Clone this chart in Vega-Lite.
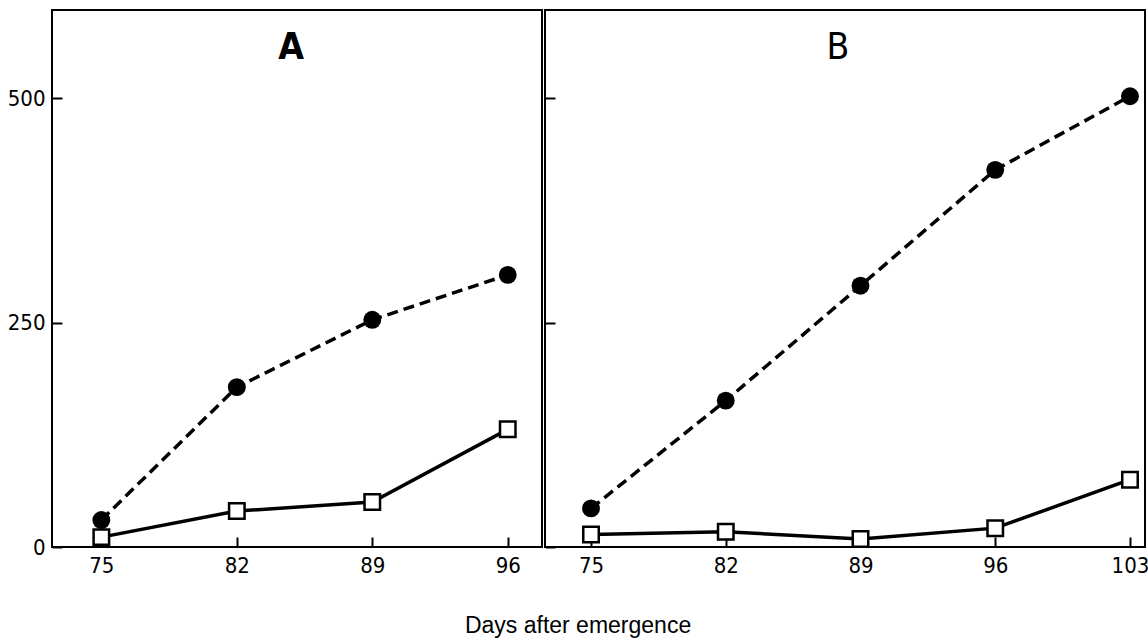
{
  "$schema": "https://vega.github.io/schema/vega-lite/v6.json",
  "background": "white",
  "padding": {"left": 6, "top": 9, "right": 2, "bottom": 5},
  "data": {"values": [
    {"panel": "A", "series": "circle", "day": 75, "value": 30},
    {"panel": "A", "series": "circle", "day": 82, "value": 178},
    {"panel": "A", "series": "circle", "day": 89, "value": 253},
    {"panel": "A", "series": "circle", "day": 96, "value": 303},
    {"panel": "A", "series": "square", "day": 75, "value": 11},
    {"panel": "A", "series": "square", "day": 82, "value": 40},
    {"panel": "A", "series": "square", "day": 89, "value": 50},
    {"panel": "A", "series": "square", "day": 96, "value": 131},
    {"panel": "B", "series": "circle", "day": 75, "value": 43},
    {"panel": "B", "series": "circle", "day": 82, "value": 163},
    {"panel": "B", "series": "circle", "day": 89, "value": 291},
    {"panel": "B", "series": "circle", "day": 96, "value": 420},
    {"panel": "B", "series": "circle", "day": 103, "value": 502},
    {"panel": "B", "series": "square", "day": 75, "value": 14},
    {"panel": "B", "series": "square", "day": 82, "value": 17},
    {"panel": "B", "series": "square", "day": 89, "value": 9},
    {"panel": "B", "series": "square", "day": 96, "value": 21},
    {"panel": "B", "series": "square", "day": 103, "value": 75}
  ]},
  "title": {"text": "Days after emergence", "orient": "bottom", "anchor": "middle", "font": "Liberation Sans", "fontSize": 23, "fontWeight": "normal", "offset": 38, "color": "black"},
  "spacing": 0,
  "config": {
    "view": {"stroke": "black", "strokeWidth": 2},
    "axis": {"domain": false, "grid": false, "ticks": true, "tickColor": "black", "tickWidth": 2, "tickSize": -10, "labelFont": "DejaVu Sans Condensed, DejaVu Sans, sans-serif", "labelFontSize": 22, "labelColor": "black", "title": null}
  },
  "resolve": {"scale": {"x": "independent", "y": "independent"}},
  "hconcat": [
    {
      "width": 490,
      "height": 537,
      "title": {"text": "A", "font": "DejaVu Sans Condensed, DejaVu Sans, sans-serif", "fontSize": 37, "fontWeight": "bold", "offset": 0, "dy": 57, "frame": "group", "anchor": "middle", "dx": -6, "color": "black"},
      "transform": [{"filter": "datum.panel === 'A'"}],
      "encoding": {
        "x": {"field": "day", "type": "quantitative", "scale": {"domain": [72.45, 97.77], "nice": false, "zero": false}, "axis": {"values": [75, 82, 89, 96], "labelPadding": 18}},
        "y": {"field": "value", "type": "quantitative", "scale": {"domain": [0, 598], "nice": false}, "axis": {"values": [0, 250, 500], "labelPadding": 17}}
      },
      "layer": [
        {"transform": [{"filter": "datum.series === 'circle'"}], "mark": {"type": "line", "color": "black", "strokeWidth": 3.5, "strokeDash": [11, 6]}},
        {"transform": [{"filter": "datum.series === 'square'"}], "mark": {"type": "line", "color": "black", "strokeWidth": 3.5}},
        {"transform": [{"filter": "datum.series === 'circle'"}], "mark": {"type": "point", "shape": "circle", "filled": true, "color": "black", "size": 320, "opacity": 1}},
        {"transform": [{"filter": "datum.series === 'square'"}], "mark": {"type": "point", "shape": "square", "filled": true, "fill": "white", "stroke": "black", "strokeWidth": 2.5, "size": 240, "opacity": 1}}
      ]
    },
    {
      "width": 600,
      "height": 537,
      "title": {"text": "B", "font": "DejaVu Sans Condensed, DejaVu Sans, sans-serif", "fontSize": 37, "fontWeight": "normal", "offset": 0, "dy": 57, "frame": "group", "anchor": "middle", "dx": -7, "color": "black"},
      "transform": [{"filter": "datum.panel === 'B'"}],
      "encoding": {
        "x": {"field": "day", "type": "quantitative", "scale": {"domain": [72.61, 103.78], "nice": false, "zero": false}, "axis": {"values": [75, 82, 89, 96, 103], "labelPadding": 18}},
        "y": {"field": "value", "type": "quantitative", "scale": {"domain": [0, 598], "nice": false}, "axis": {"values": [0, 250, 500], "labels": false}}
      },
      "layer": [
        {"transform": [{"filter": "datum.series === 'circle'"}], "mark": {"type": "line", "color": "black", "strokeWidth": 3.5, "strokeDash": [11, 6]}},
        {"transform": [{"filter": "datum.series === 'square'"}], "mark": {"type": "line", "color": "black", "strokeWidth": 3.5}},
        {"transform": [{"filter": "datum.series === 'circle'"}], "mark": {"type": "point", "shape": "circle", "filled": true, "color": "black", "size": 320, "opacity": 1}},
        {"transform": [{"filter": "datum.series === 'square'"}], "mark": {"type": "point", "shape": "square", "filled": true, "fill": "white", "stroke": "black", "strokeWidth": 2.5, "size": 240, "opacity": 1}}
      ]
    }
  ]
}
